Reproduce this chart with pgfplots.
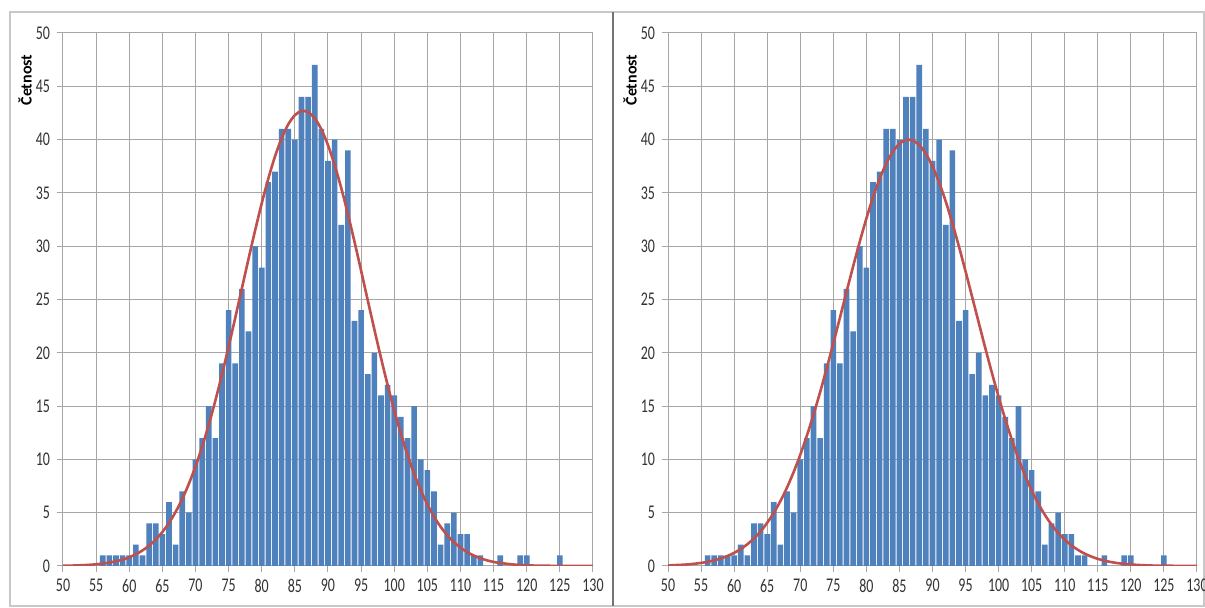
\documentclass[border=0pt]{standalone}
\usepackage{fontspec}
\setmainfont{Carlito}
\newfontfamily\tickfont{Carlito}[FakeStretch=0.72]
\usepackage{pgfplots}
\usepackage{pgfplotstable}
\pgfplotsset{compat=1.18}
\definecolor{barblue}{HTML}{4F81BD}
\definecolor{curvered}{HTML}{C0504D}
\definecolor{gridgray}{HTML}{A6A6A6}
\definecolor{framegray}{HTML}{C8C8C8}

\pgfplotstableread{
x y
56 1
57 1
58 1
59 1
60 1
61 2
62 1
63 4
64 4
65 3
66 6
67 2
68 7
69 5
70 10
71 12
72 15
73 12
74 19
75 24
76 19
77 26
78 22
79 30
80 28
81 36
82 37
83 41
84 41
85 40
86 44
87 44
88 47
89 41
90 38
91 40
92 32
93 39
94 23
95 24
96 18
97 20
98 16
99 17
100 16
101 14
102 12
103 15
104 10
105 9
106 7
107 2
108 4
109 5
110 3
111 3
112 1
113 1
116 1
119 1
120 1
125 1
}\bars

\pgfplotstableread{
x y
50 0.02
52 0.05
54 0.11
55 0.16
56 0.22
57 0.32
58 0.44
59 0.60
60 0.82
61 1.10
62 1.46
63 1.91
64 2.49
65 3.19
66 4.04
67 5.07
68 6.29
69 7.71
70 9.34
71 11.19
72 13.25
73 15.52
74 17.97
75 20.57
76 23.28
77 26.04
78 28.80
79 31.48
80 34.03
81 36.36
82 38.42
83 40.12
84 41.43
85 42.29
86 42.68
87 42.58
88 42.00
89 40.96
90 39.48
91 37.63
92 35.46
93 33.03
94 30.42
95 27.70
96 24.93
97 22.19
98 19.52
99 16.98
100 14.60
101 12.41
102 10.43
103 8.66
104 7.12
105 5.78
106 4.64
107 3.68
108 2.89
109 2.24
110 1.72
111 1.30
112 0.98
113 0.72
114 0.53
115 0.38
116 0.28
118 0.14
120 0.06
122 0.03
125 0.01
130 0.00
}\curveA

\pgfplotstableread{
x y
50 0.05
51 0.08
52 0.11
53 0.15
54 0.21
55 0.29
56 0.39
57 0.53
58 0.71
59 0.94
60 1.23
61 1.59
62 2.04
63 2.59
64 3.25
65 4.05
66 4.99
67 6.09
68 7.36
69 8.81
70 10.43
71 12.22
72 14.19
73 16.30
74 18.54
75 20.89
76 23.29
77 25.72
78 28.11
79 30.42
80 32.59
81 34.57
82 36.31
83 37.75
84 38.86
85 39.61
86 39.97
87 39.93
88 39.49
89 38.67
90 37.49
91 35.98
92 34.20
93 32.17
94 29.97
95 27.64
96 25.23
97 22.81
98 20.41
99 18.08
100 15.86
101 13.78
102 11.85
103 10.08
104 8.50
105 7.09
106 5.86
107 4.79
108 3.88
109 3.11
110 2.47
111 1.94
112 1.51
113 1.16
114 0.89
115 0.67
116 0.50
117 0.37
118 0.27
119 0.20
120 0.14
122 0.07
124 0.03
126 0.02
130 0.00
}\curveB

\pgfplotsset{
  histstyle/.style={
    scale only axis,
    width=265pt, height=266.5pt,
    anchor=south west,
    xmin=50, xmax=130, ymin=0, ymax=50,
    xtick={50,55,...,130}, ytick={0,5,...,50},
    grid=major,
    major grid style={gridgray, line width=0.5pt},
    axis line style={gridgray, line width=0.5pt},
    tick style={gridgray, line width=0.5pt},
    tick align=outside, major tick length=3pt,
    xtick pos=bottom, ytick pos=left,
    /pgf/number format/assume math mode=true,
    tick label style={font=\tickfont\fontsize{9.7}{10}\selectfont, text=black!80},
  }
}

\begin{document}
\begin{tikzpicture}
\useasboundingbox (0,0) rectangle (602.5pt,304pt);
\fill[white] (0,0) rectangle (602.5pt,304pt);
\draw[framegray, line width=0.75pt] (5pt,1pt) rectangle (306.5pt,298pt);
\draw[framegray, line width=0.75pt] (306.5pt,1pt) rectangle (602pt,298pt);
\draw[black!55, line width=1pt] (306.5pt,1pt) -- (306.5pt,298pt);

\begin{axis}[histstyle, at={(31.5pt,21pt)}]
  \addplot[ybar, bar width=0.85, fill=barblue, draw=none] table {\bars};
  \addplot[curvered, line width=1.3pt, smooth, no markers] table {\curveA};
\end{axis}
\node[rotate=90, font=\bfseries\fontsize{8}{9}\selectfont] at (12.5pt,264pt) {Četnost};

\begin{axis}[histstyle, at={(334pt,21pt)}, width=264.5pt]
  \addplot[ybar, bar width=0.85, fill=barblue, draw=none] table {\bars};
  \addplot[curvered, line width=1.3pt, smooth, no markers] table {\curveB};
\end{axis}
\node[rotate=90, font=\bfseries\fontsize{8}{9}\selectfont] at (315pt,264pt) {Četnost};
\end{tikzpicture}
\end{document}
